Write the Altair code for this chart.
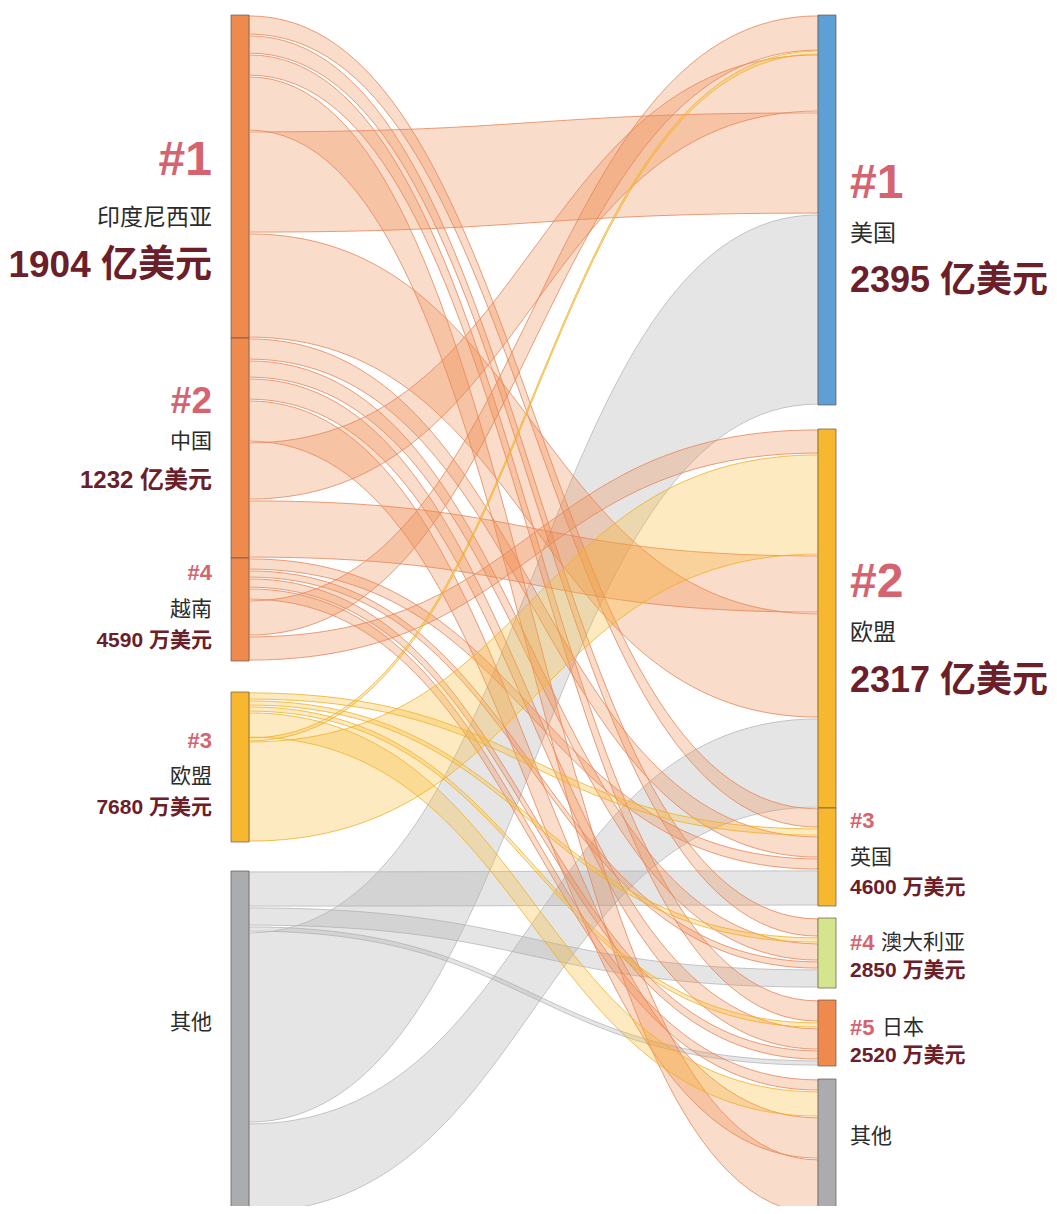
import altair as alt
import numpy as np
import pandas as pd

# ---------------- data ----------------
left_ids = ["IDN", "CHN", "VNM", "EUL", "OTL"]
left_names = ["印度尼西亚", "中国", "越南", "欧盟", "其他"]
left_ranks = ["#1", "#2", "#4", "#3", ""]
left_amounts = ["1904 亿美元", "1232 亿美元", "4590 万美元", "7680 万美元", ""]

right_ids = ["USA", "EUR", "GBR", "AUS", "JPN", "OTR"]
right_names = ["美国", "欧盟", "英国", "澳大利亚", "日本", "其他"]
right_ranks = ["#1", "#2", "#3", "#4", "#5", ""]
right_amounts = ["2395 亿美元", "2317 亿美元", "4600 万美元", "2850 万美元", "2520 万美元", ""]

# flows, listed in the stacking order at their source node (visual band widths)
flow_source = ["IDN"] * 6 + ["CHN"] * 6 + ["VNM"] * 6 + ["EUL"] * 6 + ["OTL"] * 5
flow_target = ["GBR", "AUS", "JPN", "OTR", "USA", "EUR",
               "GBR", "AUS", "JPN", "OTR", "USA", "EUR",
               "GBR", "AUS", "JPN", "OTR", "USA", "EUR",
               "GBR", "AUS", "JPN", "OTR", "USA", "EUR",
               "GBR", "AUS", "JPN", "USA", "EUR"]
flow_value = [20, 19, 22, 55, 102, 105,
              22, 18, 22, 42, 58, 58,
              12, 8, 10, 12, 36, 25,
              8, 6, 6, 26, 3, 101,
              36, 19, 6, 191, 90]

# stacking order of incoming flows at each target node
target_order = {
    "USA": ["VNM", "EUL", "CHN", "IDN", "OTL"],
    "EUR": ["VNM", "EUL", "CHN", "IDN", "OTL"],
    "GBR": ["IDN", "EUL", "CHN", "VNM", "OTL"],
    "AUS": ["IDN", "EUL", "CHN", "VNM", "OTL"],
    "JPN": ["IDN", "EUL", "CHN", "VNM", "OTL"],
    "OTR": ["VNM", "EUL", "CHN", "IDN"],
}

# ---------------- layout / style ----------------
left_gap_after = {"IDN": 0, "CHN": 0, "VNM": 31, "EUL": 29, "OTL": 0}
right_gap_after = {"USA": 24, "EUR": 0, "GBR": 12, "AUS": 12, "JPN": 13, "OTR": 0}
LX0, LX1, RX0, RX1 = 231, 249, 818, 836
INSET = 0.9

node_color = {"IDN": "#EF8A4F", "CHN": "#EF8A4F", "VNM": "#EF8A4F", "EUL": "#F7B82F",
              "OTL": "#ABACB0", "USA": "#5E9FD6", "EUR": "#F7B82F", "GBR": "#F7B82F",
              "AUS": "#D5E58D", "JPN": "#EF8A4F", "OTR": "#ABACB0"}
group_of = {"IDN": "orange", "CHN": "orange", "VNM": "orange", "EUL": "yellow", "OTL": "gray"}
band_fill = {"orange": "#F08A50", "yellow": "#F8B92E", "gray": "#A8A8A8"}
band_stroke = {"orange": "#E5865A", "yellow": "#F0B02A", "gray": "#B8B8BA"}
band_opacity = {"orange": 0.3, "yellow": 0.3, "gray": 0.3}

# node sizes from flows
flows = list(zip(flow_source, flow_target, flow_value))
size = {}
for s, t, v in flows:
    size[s] = size.get(s, 0) + v
    size[t] = size.get(t, 0) + v

top = {}
cur = 0
for n in left_ids:
    top[n] = cur
    cur += size[n] + left_gap_after[n]
cur = 0
for n in right_ids:
    top[n] = cur
    cur += size[n] + right_gap_after[n]

# offsets within nodes
src_off = {}
acc = {n: 0 for n in left_ids}
for i, (s, t, v) in enumerate(flows):
    src_off[i] = top[s] + acc[s]
    acc[s] += v
tgt_off = {}
for t in right_ids:
    a = 0
    for s in target_order[t]:
        for i, (fs, ft, v) in enumerate(flows):
            if fs == s and ft == t:
                tgt_off[i] = top[t] + a
                a += v

rows = []
ts = np.linspace(0, 1, 70)
xm = (LX1 + RX0) / 2
for i, (s, t, v) in enumerate(flows):
    y0a, y0b = src_off[i], src_off[i] + v
    y1a, y1b = tgt_off[i], tgt_off[i] + v
    ins = INSET if v > 4 else 0.0
    for tt in ts:
        x = LX1 * (1 - tt) ** 3 + 3 * xm * tt * (1 - tt) ** 2 + 3 * xm * tt ** 2 * (1 - tt) + RX0 * tt ** 3
        sm = 3 * tt ** 2 - 2 * tt ** 3
        rows.append({"fid": i, "grp": group_of[s], "x": x,
                     "ytop": y0a + (y1a - y0a) * sm + ins,
                     "ybot": y0b + (y1b - y0b) * sm - ins})
bands = pd.DataFrame(rows)

node_rows = []
for n in left_ids:
    node_rows.append({"id": n, "x": LX0, "x2": LX1, "y": top[n], "y2": top[n] + size[n], "c": node_color[n]})
for n in right_ids:
    node_rows.append({"id": n, "x": RX0, "x2": RX1, "y": top[n], "y2": top[n] + size[n], "c": node_color[n]})
nodes = pd.DataFrame(node_rows)

# screen-pixel-like scales (page margin 8px)
xs = alt.Scale(domain=[8, 1049], range=[0, 1041], nice=False, zero=False)
ys = alt.Scale(domain=[-7, 1191], reverse=True, nice=False, zero=False)

layers = []
for g in ["gray", "orange", "yellow"]:
    d = bands[bands.grp == g]
    layers.append(
        alt.Chart(d).mark_area(fill=band_fill[g], fillOpacity=band_opacity[g], stroke=band_stroke[g],
                               strokeWidth=1, strokeOpacity=0.8, interpolate="linear", clip=True).encode(
            x=alt.X("x:Q", scale=xs, axis=None),
            y=alt.Y("ytop:Q", scale=ys, axis=None),
            y2="ybot:Q",
            detail="fid:N",
        )
    )

layers.append(
    alt.Chart(nodes).mark_rect(stroke="#6B5242", strokeWidth=1, strokeOpacity=0.7, clip=True).encode(
        x=alt.X("x:Q", scale=xs, axis=None), x2="x2:Q",
        y=alt.Y("y:Q", scale=ys, axis=None), y2="y2:Q",
        color=alt.Color("c:N", scale=None, legend=None),
    )
)

# ---------------- labels ----------------
big = {"IDN", "USA", "EUR"}
rank_size = {"IDN": 48, "CHN": 37, "USA": 48, "EUR": 48}
amt_size = {"IDN": 37, "CHN": 24, "USA": 36, "EUR": 36}
# (dy rank, dy name, dy amount, dx name) relative to node centre
label_pos = {
    "IDN": (-16, 41, 89, 0), "CHN": (-46, -6, 33, 0), "VNM": (-37, 0, 31, 0),
    "EUL": (-26, 10, 41, 0), "OTL": (0, -19, 0, 0),
    "USA": (-26, 24, 71, 0), "EUR": (-36, 14, 62, 0), "GBR": (-36, 1, 31, 0),
    "AUS": (-10, -10, 18, 31), "JPN": (-5, -5, 23, 32), "OTR": (0, -10, 0, 0),
}

lab = {"rank": [], "name": [], "amount": []}
for side, ids, names, ranks, amts, ax in [("L", left_ids, left_names, left_ranks, left_amounts, 212),
                                          ("R", right_ids, right_names, right_ranks, right_amounts, 850)]:
    for n, nm, rk, am in zip(ids, names, ranks, amts):
        c = top[n] + size[n] / 2
        dr, dn, da, dx = label_pos[n]
        if rk:
            lab["rank"].append({"side": side, "t": rk, "x": ax, "y": c + dr, "fs": rank_size.get(n, 22)})
        lab["name"].append({"side": side, "t": nm, "x": ax + dx, "y": c + dn, "fs": 23 if n in big else 21})
        if am:
            lab["amount"].append({"side": side, "t": am, "x": ax, "y": c + da, "fs": amt_size.get(n, 21)})

style = {
    "rank": dict(font="Liberation Sans", fontWeight="bold", color="#D4646F"),
    "name": dict(font="Noto Sans CJK SC", fontWeight="normal", color="#2B2B2B"),
    "amount": dict(font="Liberation Sans, Noto Sans CJK SC", fontWeight="bold", color="#6B2029"),
}
for kind, recs in lab.items():
    df = pd.DataFrame(recs)
    for side, al in [("L", "right"), ("R", "left")]:
        d = df[df.side == side]
        if len(d) == 0:
            continue
        layers.append(
            alt.Chart(d).mark_text(align=al, baseline="middle", **style[kind]).encode(
                x=alt.X("x:Q", scale=xs, axis=None),
                y=alt.Y("y:Q", scale=ys, axis=None),
                text="t:N",
                size=alt.Size("fs:Q", scale=None, legend=None),
            )
        )

chart = alt.layer(*layers).properties(
    width=1041, height=1198, padding=0, autosize=alt.AutoSizeParams(type="none"),
).configure_view(stroke=None)

chart.save("out.html", embed_options={"renderer": "svg", "actions": False})
